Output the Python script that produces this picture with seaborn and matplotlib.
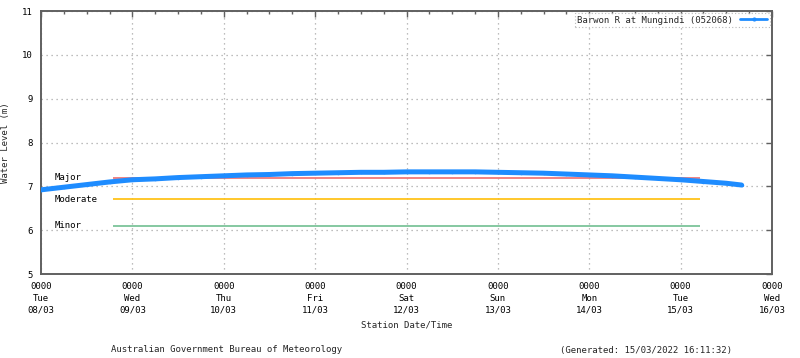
import pandas as pd
import numpy as np
import matplotlib.pyplot as plt
import matplotlib.dates as mdates
import seaborn as sns

# water level readings, 6-hourly from 08/03 00:00, last one 15/03 16:00
times = list(pd.date_range("2022-03-08 00:00", "2022-03-15 12:00", freq="6h")) + [pd.Timestamp("2022-03-15 16:00")]
levels = [6.92, 6.98, 7.04, 7.10,
          7.15, 7.17, 7.20, 7.22,
          7.24, 7.26, 7.27, 7.29,
          7.30, 7.31, 7.32, 7.32,
          7.33, 7.33, 7.33, 7.33,
          7.32, 7.31, 7.30, 7.28,
          7.26, 7.24, 7.21, 7.18,
          7.15, 7.11, 7.07, 7.03]

flood_names = ["Major", "Moderate", "Minor"]
flood_levels = [7.2, 6.7, 6.1]
flood_colors = ["#f07878", "#ffc31a", "#7cc49a"]
flood_start = pd.Timestamp("2022-03-08 19:00")
flood_end = pd.Timestamp("2022-03-15 05:00")

station = "Barwon R at Mungindi (052068)"

df = pd.DataFrame({"time": times, "level": levels})

sns.set_style("white")
plt.rcParams['font.family'] = ['DejaVu Sans Mono']
plt.rcParams['font.size'] = 6.5

fig = plt.figure(figsize=(8, 3.58), dpi=100)
ax = fig.add_axes([41/800, 1-274/358, (772-41)/800, (274-11)/358])

for name, lvl, col in zip(flood_names, flood_levels, flood_colors):
    ax.hlines(lvl, flood_start, flood_end, color=col, lw=1.3, zorder=2)
    ax.text(pd.Timestamp("2022-03-08 03:30"), lvl, name, va="center", ha="left", fontsize=6.5, color="#000000")

sns.lineplot(data=df, x="time", y="level", ax=ax, color="#1e8cff", lw=3.6,
             marker="o", markersize=2.5, markeredgewidth=0, label=station, zorder=3)

ax.set_xlim(pd.Timestamp("2022-03-08"), pd.Timestamp("2022-03-16"))
ax.set_ylim(5, 11)
ax.set_yticks(range(5, 12))

ticks = pd.date_range("2022-03-08", "2022-03-16", freq="D")
ax.set_xticks(ticks)
ax.set_xticklabels([t.strftime("0000\n%a\n%d/%m") for t in ticks], linespacing=1.4)
ax.xaxis.set_minor_locator(mdates.HourLocator(byhour=[6, 12, 18]))

ax.tick_params(which="major", direction="in", length=4, width=1, colors="#606060",
               labelcolor="black", top=True, right=True, labelsize=6.5, pad=6)
ax.tick_params(which="minor", direction="in", length=2, width=1, colors="#606060", top=True)

ax.grid(True, which="major", ls=(0, (1, 3)), color="#a8a8a8", lw=0.9)
for s in ax.spines.values():
    s.set_color("#606060")
    s.set_linewidth(1.4)

ax.set_xlabel("Station Date/Time", fontsize=6.5)
ax.set_ylabel("Water Level (m)", fontsize=6.5)
ax.xaxis.set_label_coords(0.5, -0.178)
ax.yaxis.set_label_coords(-0.042, 0.5)

leg = ax.legend(loc="upper right", markerfirst=False, fontsize=6.5, frameon=True, fancybox=False,
                handlelength=3, borderpad=0.3, borderaxespad=0.2, handletextpad=0.8)
leg.get_frame().set_edgecolor("#a8a8a8")
leg.get_frame().set_linestyle((0, (1, 2)))
leg.get_frame().set_linewidth(0.8)
for h in leg.legend_handles:
    h.set_linewidth(2)
    h.set_markersize(3)

fig.text(227/800, 1-350/358, "Australian Government Bureau of Meteorology", ha="center", va="center", fontsize=6.5)
fig.text(646/800, 1-350/358, "(Generated: 15/03/2022 16:11:32)", ha="center", va="center", fontsize=6.5)

fig.savefig("out.png", dpi=100)
